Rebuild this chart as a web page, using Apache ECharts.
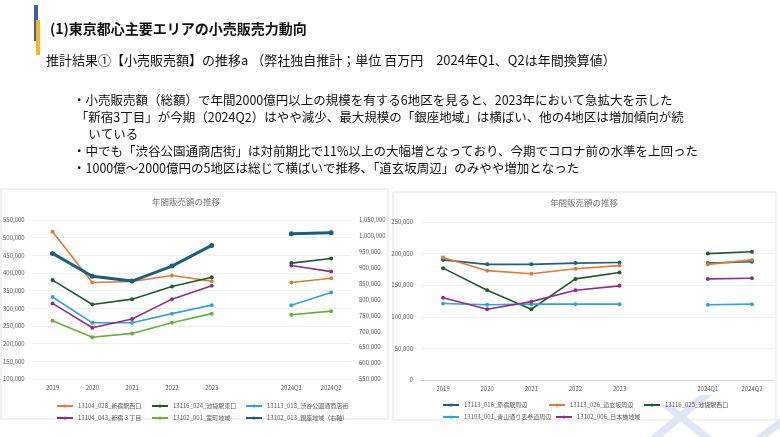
<!DOCTYPE html>
<html><head><meta charset="utf-8">
<script src="https://cdn.jsdelivr.net/npm/echarts@6/dist/echarts.min.js"></script>
<style>html,body{margin:0;padding:0;background:#fff}#c{width:780px;height:437px}</style>
</head><body><div id="c"></div>
<script>
const categories = ['2019','2020','2021','2022','2023','','2024Q1','2024Q2'];
const leftAxisTicks = [100000,550000,50000];
const rightAxisTicks = [550000,1050000,50000];
const nishiguchiShinjuku = [517000,373000,376000,393000,377000,null,373000,385000];
const higashiguchiIkebukuro = [380000,311000,326000,362000,388000,null,428000,441000];
const shibuyaKoen = [332000,259000,259000,285000,309000,null,309000,345000];
const shinjuku3 = [314000,245000,270000,326000,364000,null,421000,404000];
const muromachi = [265000,218000,229000,259000,285000,null,282000,292000];
const ginza = [945000,873000,858000,905000,970000,null,1007000,1010000];
const harajuku = [190000,183000,183000,185000,186000,null,185000,187000];
const dogenzaka = [194000,173000,168000,176000,181000,null,183000,190000];
const ikebukuroWest = [177000,142000,112000,160000,170000,null,200000,203000];
const aoyama = [121000,119000,120000,120000,120000,null,119000,120000];
const nihonbashi = [130000,112000,124000,142000,149000,null,160000,161000];

const F = '"Noto Sans CJK JP", "Noto Sans", sans-serif';
const fmt = v => v.toLocaleString('en-US');
const chart = echarts.init(document.getElementById('c'));
function s(name, data, color, gi, yi, w) {
  return {name, type:'line', data, xAxisIndex:gi, yAxisIndex:yi, connectNulls:false,
    symbol:'circle', symbolSize: w>2?5:4, itemStyle:{color}, lineStyle:{color, width:w||1.6}};
}
const axisLab = {fontSize:6, color:'#595959', fontFamily:F, formatter:fmt};
const split = {show:true, lineStyle:{color:'#e6e6e6', width:0.6}};
const lg = (left, top, name) => ({left, top, itemWidth:16, itemHeight:4, itemGap:4,
  textStyle:{fontSize:6,color:'#595959'}, data:[name]});
chart.setOption({
  animation:false,
  textStyle:{fontFamily:F},
  grid:[{left:26,right:429,top:220,bottom:58},{left:421,right:6,top:222,bottom:57}],
  xAxis:[
    {type:'category', gridIndex:0, data:categories, axisLine:{show:false}, axisTick:{show:false}, axisLabel:{fontSize:6,color:'#595959',margin:6}},
    {type:'category', gridIndex:1, data:categories, axisLine:{show:true,lineStyle:{color:'#d9d9d9'}}, axisTick:{show:false}, axisLabel:{fontSize:6,color:'#595959',margin:6}}
  ],
  yAxis:[
    {type:'value', gridIndex:0, min:leftAxisTicks[0], max:leftAxisTicks[1], interval:leftAxisTicks[2], axisLabel:axisLab, splitLine:split},
    {type:'value', gridIndex:0, position:'right', min:rightAxisTicks[0], max:rightAxisTicks[1], interval:rightAxisTicks[2], axisLabel:axisLab, splitLine:{show:false}},
    {type:'value', gridIndex:1, min:0, max:250000, interval:50000, axisLabel:axisLab, splitLine:split}
  ],
  legend:[
    lg(51, 398, '13104_028_新宿駅西口'), lg(146, 398, '13116_024_池袋駅東口'), lg(240, 398, '13113_018_渋谷公園通商店街'),
    lg(51, 410, '13104_043_新宿３丁目'), lg(146, 410, '13102_001_室町地域'), lg(240, 410, '13102_013_銀座地域（右軸）'),
    lg(437, 397, '13113_016_原宿駅周辺'), lg(543, 397, '13113_026_道玄坂周辺'), lg(638, 397, '13116_025_池袋駅西口'),
    lg(437, 409, '13103_001_青山通り表参道周辺'), lg(550, 409, '13102_006_日本橋地域')
  ],
  series:[
    s('13104_028_新宿駅西口', nishiguchiShinjuku, '#e07b39',0,0),
    s('13116_024_池袋駅東口', higashiguchiIkebukuro, '#1e5b2a',0,0),
    s('13113_018_渋谷公園通商店街', shibuyaKoen, '#36a2d0',0,0),
    s('13104_043_新宿３丁目', shinjuku3, '#8e2f8b',0,0),
    s('13102_001_室町地域', muromachi, '#6bae3c',0,0),
    s('13102_013_銀座地域（右軸）', ginza, '#1b5e80',0,1,3),
    s('13113_016_原宿駅周辺', harajuku, '#1f5f86',1,2),
    s('13113_026_道玄坂周辺', dogenzaka, '#e07b39',1,2),
    s('13116_025_池袋駅西口', ikebukuroWest, '#1e5b2a',1,2),
    s('13103_001_青山通り表参道周辺', aoyama, '#36a2d0',1,2),
    s('13102_006_日本橋地域', nihonbashi, '#8e2f8b',1,2)
  ],
  graphic:[
    {type:'polygon', shape:{points:[[650,437],[700,395],[712,395],[662,437]]}, style:{fill:'#dfe7f4'}, z:-1},
    {type:'polygon', shape:{points:[[700,437],[660,405],[672,405],[712,437]]}, style:{fill:'#dfe7f4'}, z:-1},
    {type:'polygon', shape:{points:[[755,437],[780,418],[780,428],[767,437]]}, style:{fill:'#dfe7f4'}, z:-1},
    {type:'rect', shape:{x:1,y:189,width:387,height:230}, style:{fill:'none',stroke:'#e3e3e3',lineWidth:1}},
    {type:'rect', shape:{x:393,y:192,width:383,height:228}, style:{fill:'none',stroke:'#e3e3e3',lineWidth:1}},
    {type:'rect', shape:{x:34,y:5,width:4,height:36}, style:{fill:'#3f5fa0'}},
    {type:'rect', shape:{x:36,y:20,width:4,height:35}, style:{fill:'#f2b81c'}},
    {type:'text', left:50, top:22, style:{text:'(1)東京都心主要エリアの小売販売力動向', font:'bold 14px '+F, fill:'#111'}},
    {type:'text', left:46, top:54, style:{text:'推計結果①【小売販売額】の推移a （弊社独自推計；単位 百万円　2024年Q1、Q2は年間換算値）', font:'13px '+F, fill:'#111'}},
    {type:'text', left:73, top:92, style:{text:'・小売販売額（総額）で年間2000億円以上の規模を有する6地区を見ると、2023年において急拡大を示した\n 「新宿3丁目」が今期（2024Q2）はやや減少、最大規模の「銀座地域」は横ばい、他の4地区は増加傾向が続\n 　いている\n・中でも「渋谷公園通商店街」は対前期比で11%以上の大幅増となっており、今期でコロナ前の水準を上回った\n・1000億～2000億円の5地区は総じて横ばいで推移、「道玄坂周辺」のみやや増加となった', font:'12.5px '+F, fill:'#111', lineHeight:17}},
    {type:'text', left:152, top:198, style:{text:'年間販売額の推移', font:'8.5px '+F, fill:'#777'}},
    {type:'text', left:550, top:199, style:{text:'年間販売額の推移', font:'8.5px '+F, fill:'#777'}}
  ]
});
</script></body></html>
